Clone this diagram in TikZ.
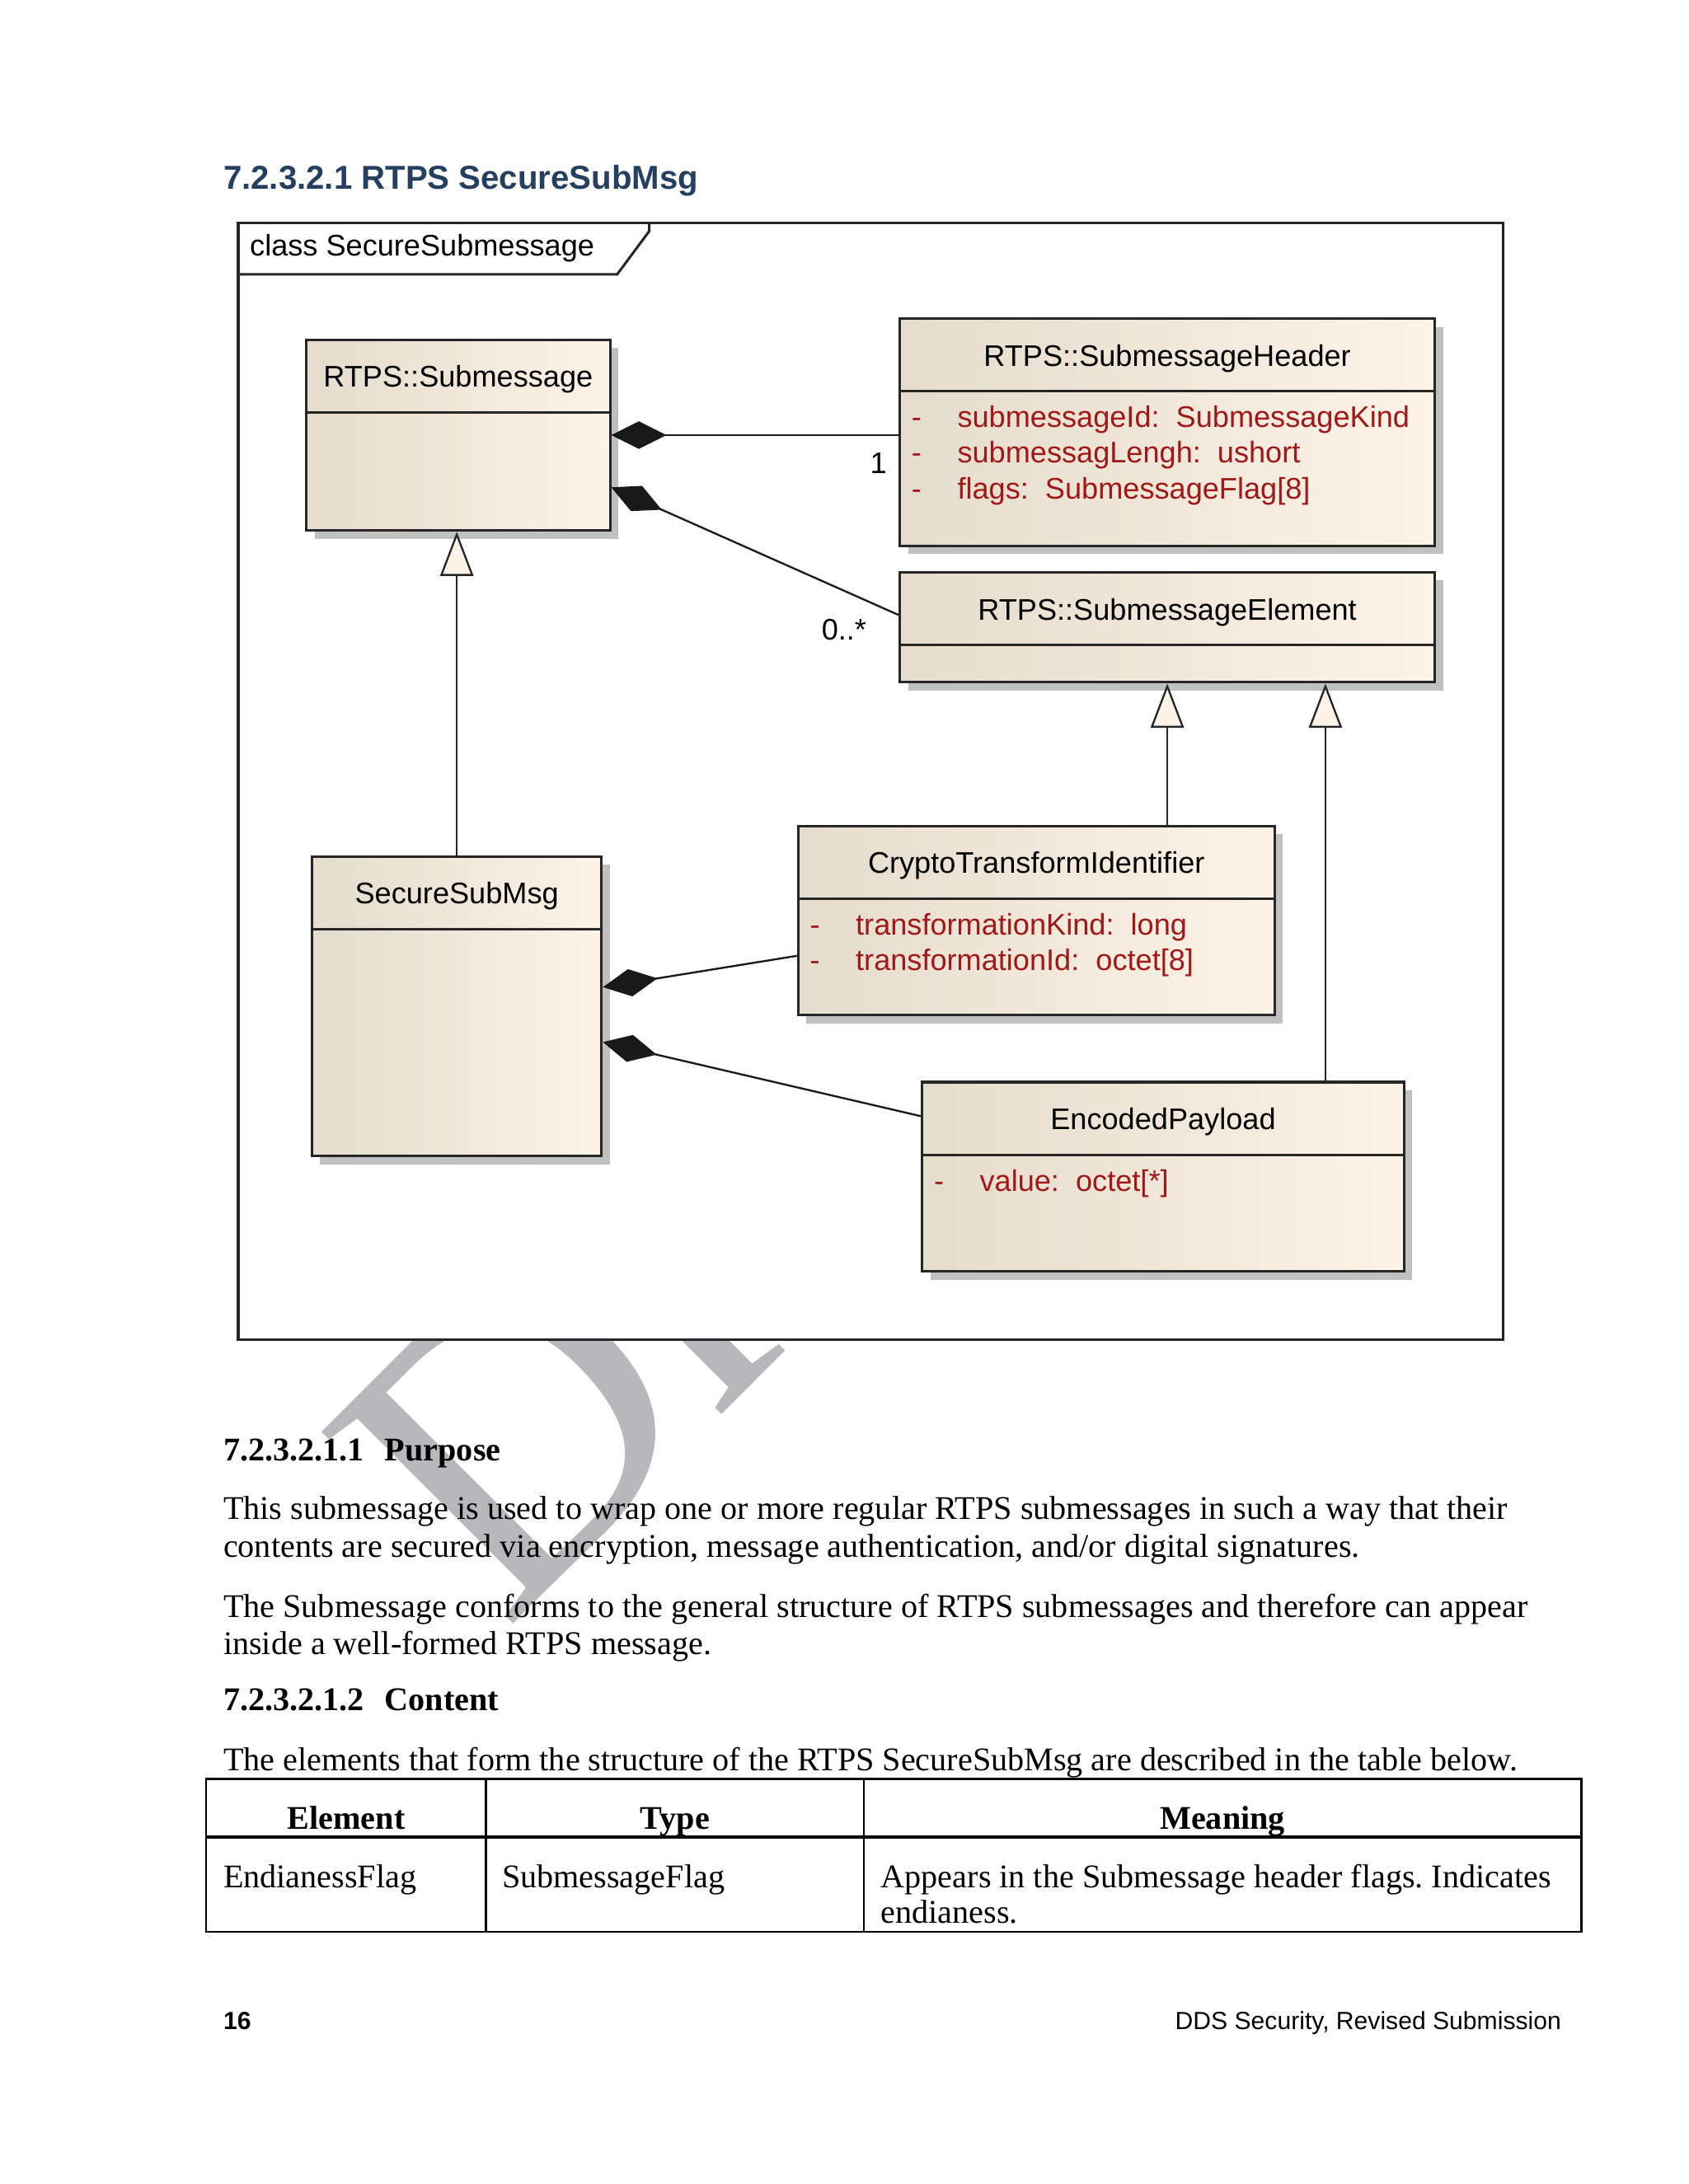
\documentclass[tikz,border=0pt]{standalone}
\usepackage{fontspec}
\setmainfont{Liberation Serif}
\setsansfont{Liberation Sans}
\usetikzlibrary{positioning,arrows.meta,shadows,calc}
\frenchspacing

\definecolor{headblue}{RGB}{36,63,96}
\definecolor{attrred}{RGB}{160,24,24}
\definecolor{boxleft}{RGB}{228,220,205}
\definecolor{boxright}{RGB}{253,243,231}
\definecolor{shadowgray}{RGB}{192,192,192}
\definecolor{wmgray}{RGB}{184,184,188}

\newcommand{\px}{0.50495pt}
\newcommand{\vis}{\makebox[16.6pt][l]{-}}

\tikzset{
  umlbox/.style={draw=black!85, line width=0.9pt, left color=boxleft, right color=boxright,
    anchor=north west, inner sep=0pt,
    drop shadow={shadow xshift=3pt, shadow yshift=-3pt, fill=shadowgray, opacity=1}},
  umlline/.style={draw=black!85, line width=0.9pt},
  umltext/.style={font=\sffamily\fontsize{10.8}{13}\selectfont, inner sep=0pt},
  umlname/.style={umltext, anchor=base},
  attr/.style={umltext, text=attrred, anchor=base west},
  mult/.style={umltext},
  comp/.style={arrows={Diamond[length=20pt,width=10pt]-}, line width=0.7pt, draw=black!90},
  gen/.style={arrows={-Triangle[length=16pt,width=12pt,fill=boxright]}, line width=0.7pt, draw=black!85},
  frame/.style={draw=black!85, line width=0.9pt},
  wm/.style={font=\rmfamily\fontsize{150}{150}\selectfont, text=wmgray, rotate=45, anchor=base west, inner sep=0pt},
  heading/.style={font=\sffamily\bfseries\fontsize{12}{14}\selectfont, text=headblue, inner sep=0pt, anchor=base west},
  subhead/.style={font=\rmfamily\bfseries\fontsize{12}{14}\selectfont, inner sep=0pt, anchor=base west},
  body/.style={font=\rmfamily\fontsize{12}{14}\selectfont, inner sep=0pt, anchor=base west},
  tblline/.style={draw=black, line width=0.8pt},
  tblhead/.style={font=\rmfamily\bfseries\fontsize{12}{14}\selectfont, inner sep=0pt, anchor=base},
  footer/.style={font=\sffamily\fontsize{9}{11}\selectfont, inner sep=0pt},
}

\begin{document}
\begin{tikzpicture}[x=\px, y=-\px]
  \useasboundingbox (0,0) rectangle (1212,1568);
  \fill[white] (0,0) rectangle (1212,1568);

  % watermark, mostly hidden by the frame
  \node[wm] (wmark) at (362,1172) {Draft};

  \node[heading] (title) at (160,136) {7.2.3.2.1 RTPS SecureSubMsg};

  % diagram frame
  \draw[frame, fill=white] (171,160) rectangle (1079,962);
  \draw[frame] (171,197) -- (443,197) -- (466,166) -- (466,160);
  \node[umltext, anchor=base west] (frmlabel) at (179,184) {class SecureSubmessage};

  % classes
  \node[umlbox, minimum width=218*\px, minimum height=137*\px] (smsg) at (219,243) {};
  \draw[umlline] ([yshift=-53*\px]smsg.north west) -- ([yshift=-53*\px]smsg.north east);
  \node[umlname] (smsgN) at ([yshift=-35*\px]smsg.north) {RTPS::Submessage};

  \node[umlbox, minimum width=384*\px, minimum height=163*\px] (smhdr) at (645,228) {};
  \draw[umlline] ([yshift=-53*\px]smhdr.north west) -- ([yshift=-53*\px]smhdr.north east);
  \node[umlname] (smhdrN) at ([yshift=-35*\px]smhdr.north) {RTPS::SubmessageHeader};
  \node[attr] (hdrA1) at ([xshift=9*\px, yshift=-79*\px]smhdr.north west) {\vis submessageId:~ SubmessageKind};
  \node[attr] (hdrA2) at ([yshift=-25.5*\px]hdrA1.base west) {\vis submessagLengh:~ ushort};
  \node[attr] (hdrA3) at ([yshift=-25.5*\px]hdrA2.base west) {\vis flags:~ SubmessageFlag[8]};

  \node[umlbox, minimum width=384*\px, minimum height=79*\px] (smelem) at (645,410) {};
  \draw[umlline] ([yshift=-53*\px]smelem.north west) -- ([yshift=-53*\px]smelem.north east);
  \node[umlname] (smelemN) at ([yshift=-35*\px]smelem.north) {RTPS::SubmessageElement};

  \node[umlbox, minimum width=342*\px, minimum height=136*\px] (crypto) at (572,592) {};
  \draw[umlline] ([yshift=-53*\px]crypto.north west) -- ([yshift=-53*\px]crypto.north east);
  \node[umlname] (cryptoN) at ([yshift=-35*\px]crypto.north) {CryptoTransformIdentifier};
  \node[attr] (cryA1) at ([xshift=9*\px, yshift=-79*\px]crypto.north west) {\vis transformationKind:~ long};
  \node[attr] (cryA2) at ([yshift=-25.5*\px]cryA1.base west) {\vis transformationId:~ octet[8]};

  \node[umlbox, minimum width=208*\px, minimum height=215*\px] (secmsg) at (223,614) {};
  \draw[umlline] ([yshift=-53*\px]secmsg.north west) -- ([yshift=-53*\px]secmsg.north east);
  \node[umlname] (secmsgN) at ([yshift=-35*\px]secmsg.north) {SecureSubMsg};

  \node[umlbox, minimum width=346*\px, minimum height=136*\px] (payload) at (661,776) {};
  \draw[umlline] ([yshift=-53*\px]payload.north west) -- ([yshift=-53*\px]payload.north east);
  \node[umlname] (payloadN) at ([yshift=-35*\px]payload.north) {EncodedPayload};
  \node[attr] (payA1) at ([xshift=9*\px, yshift=-79*\px]payload.north west) {\vis value:~ octet[*]};

  % connector ends
  \coordinate (smsgB) at ($(smsg.north east)!0.77!(smsg.south east)$);
  \coordinate (elemL) at ($(smelem.north west)!0.39!(smelem.south west)$);
  \coordinate (secA) at ($(secmsg.north east)!0.437!(secmsg.south east)$);
  \coordinate (secB) at ($(secmsg.north east)!0.619!(secmsg.south east)$);
  \coordinate (cryL) at ($(crypto.north west)!0.684!(crypto.south west)$);
  \coordinate (payL) at ($(payload.north west)!0.184!(payload.south west)$);
  \coordinate (payU) at ($(payload.north west)!0.835!(payload.north east)$);

  \draw (smsg.east) edge[comp] node[mult, pos=0.93, below=6pt] {1} (smsg.east -| smhdr.west)
        (smsgB) edge[comp] node[mult, pos=0.81, below=10pt] {0..*} (elemL)
        (secmsg.north) edge[gen] (secmsg.north |- smsg.south)
        (smelem.south |- crypto.north) edge[gen] (smelem.south)
        (payU) edge[gen] (payU |- smelem.south)
        (secA) edge[comp] (cryL)
        (secB) edge[comp] (payL);

  % text below the diagram
  \node[subhead] (purpH) at (160,1049) {7.2.3.2.1.1\hspace{7.5pt}Purpose};
  \node[body] (purp1) at (160,1091) {This submessage is used to wrap one or more regular RTPS submessages in such a way that their};
  \node[body] (purp2) at ([yshift=-27*\px]purp1.base west) {contents are secured via encryption, message authentication, and/or digital signatures.};
  \node[body] (purp3) at (160,1161) {The Submessage conforms to the general structure of RTPS submessages and therefore can appear};
  \node[body] (purp4) at ([yshift=-27*\px]purp3.base west) {inside a well-formed RTPS message.};
  \node[subhead] (contH) at (160,1228) {7.2.3.2.1.2\hspace{7.5pt}Content};
  \node[body] (cont1) at (160,1271) {The elements that form the structure of the RTPS SecureSubMsg are described in the table below.};

  % table
  \draw[tblline] (148,1277) rectangle (1135,1387);
  \draw[tblline] (349,1277) -- (349,1387) (620,1277) -- (620,1387);
  \draw[tblline, line width=1.2pt] (148,1319) -- (1135,1319);
  \node[tblhead] (thElem) at (248.5,1313) {Element};
  \node[tblhead] (thType) at (484.5,1313) {Type};
  \node[tblhead] (thMean) at (877.5,1313) {Meaning};
  \node[body] (tdElem) at (160,1355) {EndianessFlag};
  \node[body] (tdType) at (360,1355) {SubmessageFlag};
  \node[body] (tdMean1) at (632,1355) {Appears in the Submessage header flags. Indicates};
  \node[body] (tdMean2) at ([yshift=-25.5*\px]tdMean1.base west) {endianess.};

  % footer
  \node[footer, font=\sffamily\bfseries\fontsize{9}{11}\selectfont, anchor=base west] (pageno) at (160,1457) {16};
  \node[footer, anchor=base east] (docname) at (1121,1457) {DDS Security, Revised Submission};
\end{tikzpicture}
\end{document}
